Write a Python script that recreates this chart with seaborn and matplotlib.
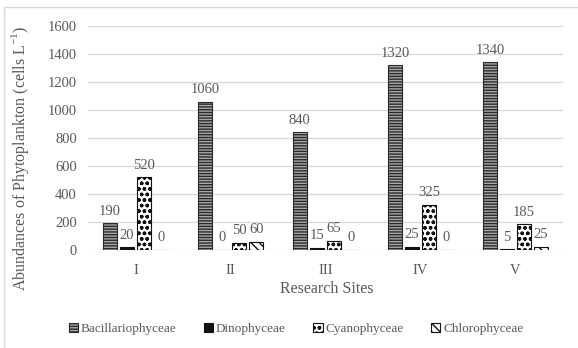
import numpy as np
import pandas as pd
import matplotlib
matplotlib.use("Agg")
import matplotlib.pyplot as plt
from matplotlib.patches import Patch, Rectangle
import seaborn as sns

sites = ["I", "II", "III", "IV", "V"]
groups = ["Bacillariophyceae", "Dinophyceae", "Cyanophyceae", "Chlorophyceae"]
bacillariophyceae = [190, 1060, 840, 1320, 1340]
dinophyceae = [20, 0, 15, 25, 5]
cyanophyceae = [520, 50, 65, 325, 185]
chlorophyceae = [0, 60, 0, 0, 25]
y_ticks = [0, 200, 400, 600, 800, 1000, 1200, 1400, 1600]

series = [bacillariophyceae, dinophyceae, cyanophyceae, chlorophyceae]
df = pd.DataFrame({
    "site": np.repeat(sites, len(groups)),
    "group": groups * len(sites),
    "value": [series[g][s] for s in range(len(sites)) for g in range(len(groups))],
})

sns.set_theme(style="white")
plt.rcParams["font.family"] = ["Liberation Serif", "DejaVu Serif"]
plt.rcParams["mathtext.fontset"] = "custom"
plt.rcParams["mathtext.rm"] = "Liberation Serif"
plt.rcParams["hatch.linewidth"] = 1.0
TXT = "#595959"

fig = plt.figure(figsize=(5.78, 3.48), dpi=100)
ax = fig.add_axes([88 / 578, 1 - 250 / 348, (563 - 88) / 578, (250 - 26) / 348])

sns.barplot(data=df, x="site", y="value", hue="group", hue_order=groups,
            order=sites, width=0.72, gap=0.18, errorbar=None, ax=ax,
            legend=False)

styles = [
    dict(facecolor="#a8a8a8", edgecolor="#2a2a2a", hatch="------"),
    dict(facecolor="#111111", edgecolor="#111111", hatch=None),
    dict(facecolor="white", edgecolor="#111111", hatch="ooo"),
    dict(facecolor="white", edgecolor="#111111", hatch="\\\\\\\\"),
]
for cont, st in zip(ax.containers, styles):
    for bar in cont:
        bar.set_facecolor(st["facecolor"])
        bar.set_edgecolor(st["edgecolor"])
        bar.set_linewidth(0.8)
        if st["hatch"]:
            bar.set_hatch(st["hatch"])
    ax.bar_label(cont, fmt="%g", padding=4, color=TXT, fontsize=10.5)

ax.set_ylim(0, 1600)
ax.set_xlim(-0.5, 4.5)
ax.set_yticks(y_ticks)
ax.yaxis.grid(True, color="#d9d9d9", linewidth=0.9)
ax.set_axisbelow(True)
for s in ax.spines.values():
    s.set_visible(False)
ax.tick_params(axis="both", length=0, colors=TXT, labelsize=10.5, pad=10)
ax.tick_params(axis="y", pad=8)
ax.set_xlabel("")
ax.set_ylabel("")

fig.text(327 / 578, 1 - 289 / 348, "Research Sites", ha="center", va="center",
         color=TXT, fontsize=11.5)
fig.text(20 / 578, 1 - 158 / 348,
         r"Abundances of Phytoplankton (cells L$^{\mathregular{-1}}$)",
         ha="center", va="center", rotation=90, color=TXT, fontsize=11.5)

handles = [Patch(facecolor=st["facecolor"], edgecolor=st["edgecolor"],
                 hatch=st["hatch"], linewidth=0.8) for st in styles]
fig.legend(handles, groups, loc="center", bbox_to_anchor=(296 / 578, 1 - 329 / 348),
           ncol=4, frameon=False, fontsize=9.5, labelcolor=TXT,
           handlelength=0.7, handleheight=0.7, handletextpad=0.2,
           columnspacing=2.1)

fig.patches.append(Rectangle((4 / 578, -0.1), 1.2, 1 - 7 / 348 + 0.1,
                             transform=fig.transFigure, fill=False,
                             edgecolor="#d9d9d9", linewidth=1.0))

fig.savefig("out.png", dpi=100)
